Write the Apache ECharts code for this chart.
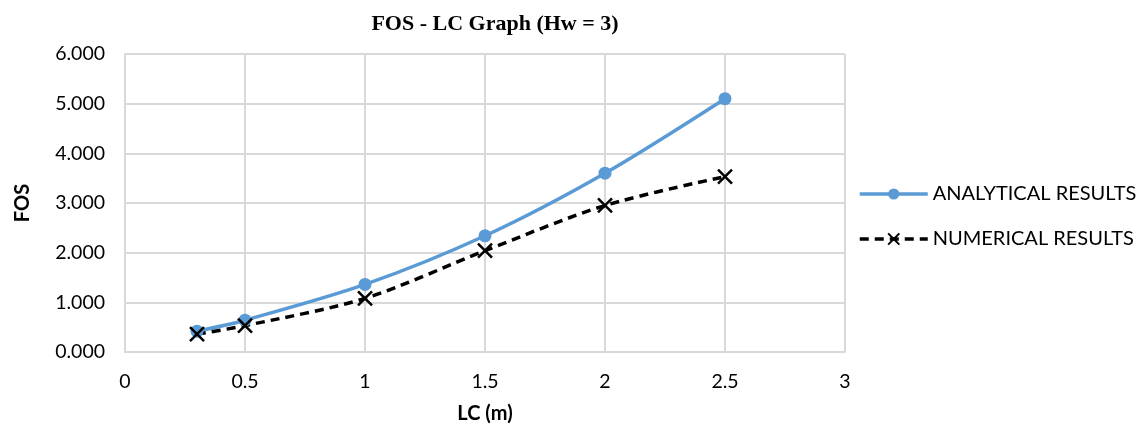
<!DOCTYPE html>
<html><head><meta charset="utf-8">
<script src="https://cdn.jsdelivr.net/npm/echarts@6/dist/echarts.min.js"></script>
<style>html,body{margin:0;padding:0;background:#fff}#c{width:1139px;height:430px}</style>
</head><body><div id="c"></div>
<script>
const lcValues = [0.3, 0.5, 1, 1.5, 2, 2.5];
const analytical = [0.42, 0.64, 1.36, 2.34, 3.60, 5.10];
const numerical = [0.36, 0.53, 1.08, 2.04, 2.95, 3.53];
const seriesNames = ['ANALYTICAL RESULTS', 'NUMERICAL RESULTS'];
const titleText = 'FOS - LC Graph (Hw = 3)';

const font = 'Lato, "Open Sans", sans-serif';
const xPath = 'path://M0,0L10,10M10,0L0,10';
const chart = echarts.init(document.getElementById('c'));
chart.setOption({
  animation: false,
  title: { text: titleText, left: 490, textAlign: 'center', top: 8,
    textStyle: { fontFamily: '"Liberation Serif", serif', fontWeight: 'bold', fontSize: 22, color: '#000' } },
  grid: { left: 125, right: 294, top: 54, bottom: 78 },
  legend: {
    orient: 'vertical', left: 853, top: 179, itemGap: 25, itemWidth: 68, itemHeight: 14,
    textStyle: { fontFamily: font, fontSize: 20, color: '#000' },
    lineStyle: { width: 3.5 },
    data: seriesNames
  },
  xAxis: {
    type: 'value', min: 0, max: 3, interval: 0.5,
    name: 'LC (m)', nameLocation: 'middle', nameGap: 52,
    nameTextStyle: { fontFamily: font, fontWeight: 'bold', fontSize: 20, color: '#000' },
    axisLine: { lineStyle: { color: '#d9d9d9', width: 2 } },
    axisTick: { show: false },
    axisLabel: { fontFamily: font, fontSize: 19.5, color: '#000', margin: 20 },
    splitLine: { lineStyle: { color: '#d9d9d9', width: 2 } }
  },
  yAxis: {
    type: 'value', min: 0, max: 6, interval: 1,
    name: 'FOS', nameLocation: 'middle', nameGap: 92, nameRotate: 90,
    nameTextStyle: { fontFamily: font, fontWeight: 'bold', fontSize: 20, color: '#000' },
    axisLine: { show: true, lineStyle: { color: '#d9d9d9', width: 2 } },
    axisTick: { show: false },
    axisLabel: { fontFamily: font, fontSize: 19.5, color: '#000', margin: 20, formatter: v => v.toFixed(3) },
    splitLine: { lineStyle: { color: '#d9d9d9', width: 2 } }
  },
  series: [
    { name: seriesNames[0], type: 'line', smooth: 0.3,
      data: lcValues.map((x, i) => [x, analytical[i]]),
      symbol: 'circle', symbolSize: 13,
      lineStyle: { color: '#5b9bd5', width: 3.5 },
      itemStyle: { color: '#5b9bd5' } },
    { name: seriesNames[1], type: 'line', smooth: 0.3,
      data: lcValues.map((x, i) => [x, numerical[i]]),
      symbol: xPath, symbolSize: 14,
      lineStyle: { color: '#000', width: 3.5, type: [9, 6] },
      itemStyle: { color: 'none', borderColor: '#000', borderWidth: 2.5 } }
  ]
});
</script></body></html>
